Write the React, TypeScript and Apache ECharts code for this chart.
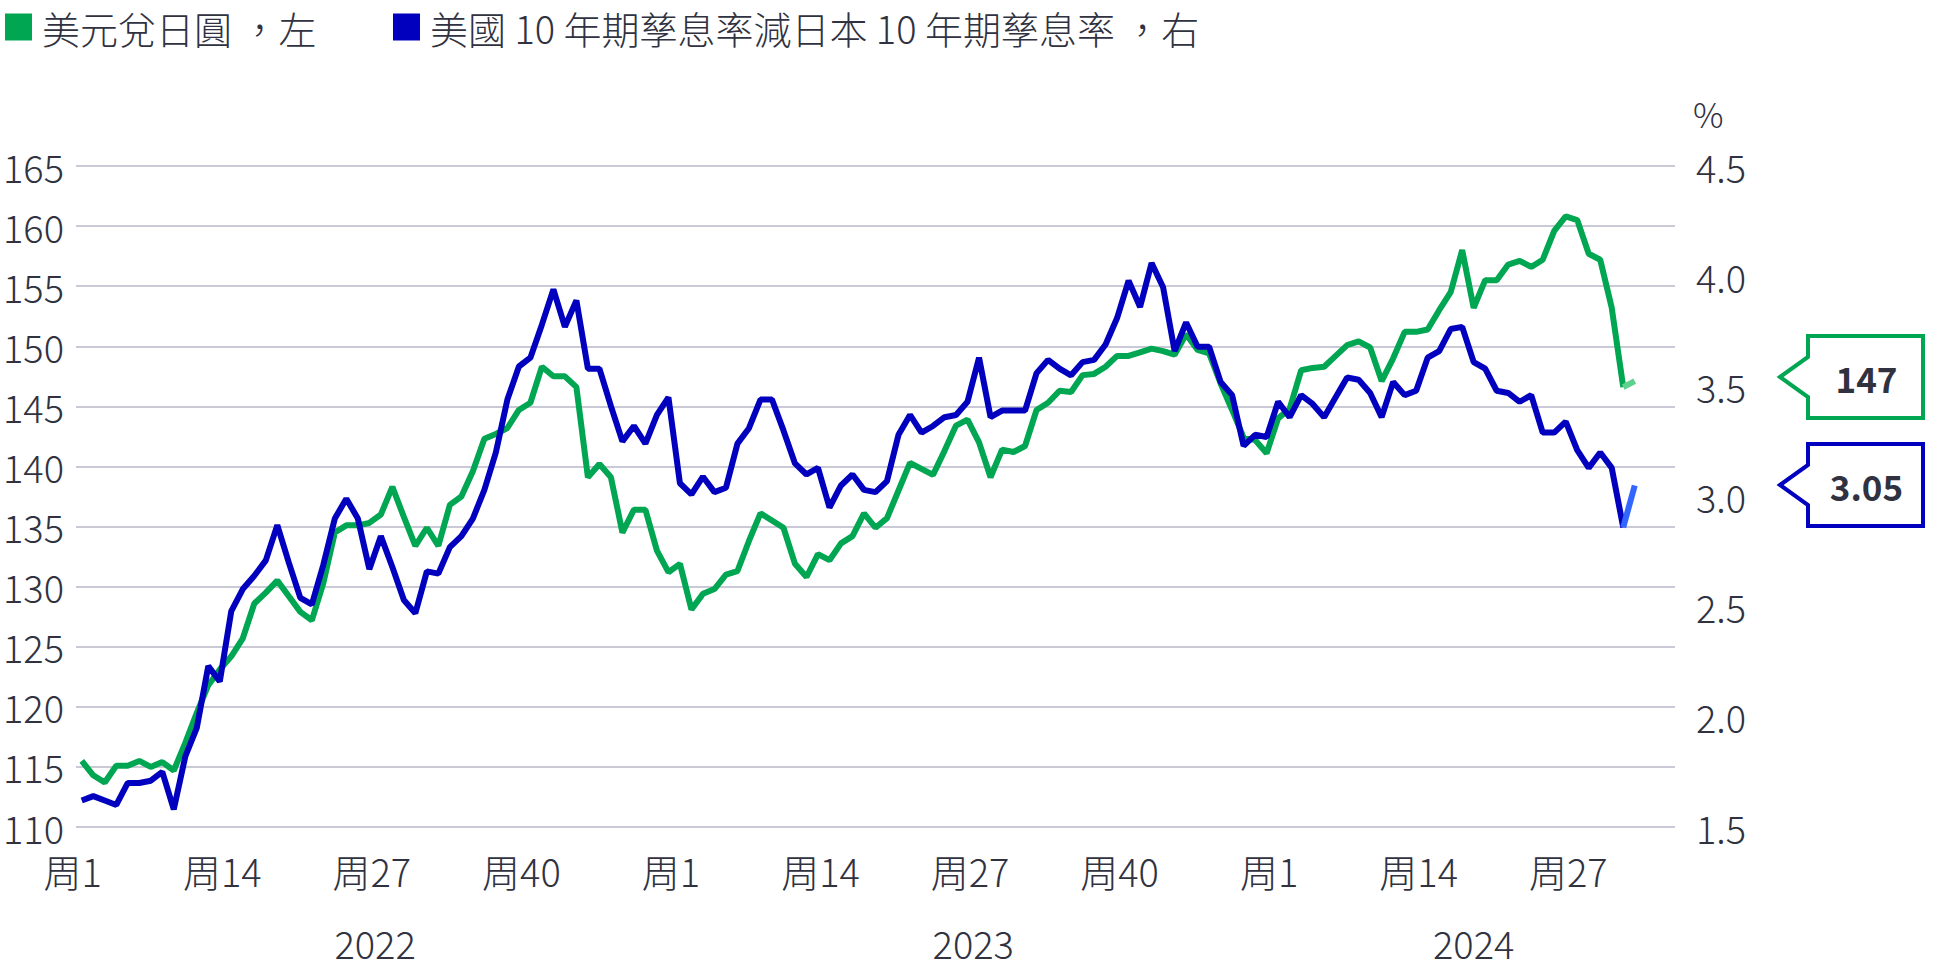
import { useEffect, useRef } from 'react';
import * as echarts from 'echarts';

// ---------- data ----------
const years = ['2022', '2023', '2024'];
const axisWeeksPerYear = [52, 52, 35]; // axis span per year (2024 data ends at week 32)
const weekTickLabels = [1, 14, 27, 40];

const usdJpy2022 = [
  115.5, 114.3, 113.7, 115.1, 115.1, 115.5, 115.0, 115.4, 114.7, 117.0,
  119.5, 121.8, 123.1, 124.2, 125.7, 128.6, 129.5, 130.5, 129.2, 127.9,
  127.2, 130.3, 134.5, 135.1, 135.1, 135.3, 136.0, 138.3, 135.8, 133.4,
  134.9, 133.4, 136.8, 137.5, 139.6, 142.3, 142.7, 143.2, 144.7, 145.3,
  148.3, 147.5, 147.5, 146.6, 139.1, 140.2, 139.1, 134.5, 136.4, 136.4,
  133.0, 131.2,
];
const usdJpy2023 = [
  131.9, 128.1, 129.4, 129.8, 131.0, 131.3, 133.8, 136.1, 135.5, 134.9,
  131.9, 130.8, 132.7, 132.2, 133.6, 134.2, 136.1, 134.9, 135.7, 138.0,
  140.3, 139.8, 139.3, 141.3, 143.4, 143.9, 142.0, 139.1, 141.4, 141.2,
  141.7, 144.7, 145.3, 146.3, 146.2, 147.6, 147.7, 148.3, 149.2, 149.2,
  149.5, 149.8, 149.6, 149.3, 151.0, 149.7, 149.4, 146.9, 144.7, 142.4,
  142.2, 141.1,
];
const usdJpy2024 = [
  144.0, 144.8, 148.0, 148.2, 148.3, 149.2, 150.1, 150.4, 149.9, 147.1,
  149.0, 151.2, 151.2, 151.4, 153.0, 154.5, 158.0, 153.2, 155.5, 155.5,
  156.8, 157.1, 156.6, 157.2, 159.6, 160.8, 160.5, 157.7, 157.2, 153.2,
  146.6, 147.1,
];

const spread2022 = [
  1.62, 1.64, 1.62, 1.60, 1.70, 1.70, 1.71, 1.75, 1.58, 1.82,
  1.95, 2.23, 2.16, 2.48, 2.58, 2.64, 2.71, 2.87, 2.70, 2.54,
  2.51, 2.69, 2.90, 2.99, 2.90, 2.67, 2.82, 2.68, 2.53, 2.47,
  2.66, 2.65, 2.77, 2.82, 2.90, 3.03, 3.20, 3.44, 3.59, 3.63,
  3.78, 3.94, 3.77, 3.89, 3.58, 3.58, 3.41, 3.25, 3.32, 3.24,
  3.37, 3.45,
];
const spread2023 = [
  3.06, 3.01, 3.09, 3.02, 3.04, 3.24, 3.31, 3.44, 3.44, 3.30,
  3.15, 3.10, 3.13, 2.95, 3.05, 3.10, 3.03, 3.02, 3.07, 3.28,
  3.37, 3.29, 3.32, 3.36, 3.37, 3.43, 3.63, 3.36, 3.39, 3.39,
  3.39, 3.56, 3.62, 3.58, 3.55, 3.61, 3.62, 3.69, 3.81, 3.98,
  3.86, 4.06, 3.95, 3.66, 3.79, 3.68, 3.68, 3.52, 3.46, 3.23,
  3.28, 3.27,
];
const spread2024 = [
  3.43, 3.36, 3.46, 3.42, 3.36, 3.45, 3.54, 3.53, 3.47, 3.36,
  3.52, 3.46, 3.48, 3.63, 3.66, 3.76, 3.77, 3.61, 3.58, 3.48,
  3.47, 3.43, 3.46, 3.29, 3.29, 3.34, 3.21, 3.13, 3.20, 3.13,
  2.86, 3.05,
];

const nameJpy = '美元兌日圓 ，左';
const nameSpread = '美國 10 年期孳息率減日本 10 年期孳息率 ，右';

// ---------- styling ----------
const GREEN = '#00A651';
const GREEN_LIGHT = '#5FD08E';
const BLUE = '#0000BE';
const BLUE_LIGHT = '#3366FF';
const TEXT = '#30323F';
const GRID = '#B9B9C9';
const FONT = '"Noto Sans CJK TC", "Noto Sans", sans-serif';
const LIGHT = 300;

export default function App() {
  const ref = useRef<HTMLDivElement>(null);

  useEffect(() => {
    if (!ref.current) return;
    const chart = echarts.init(ref.current, undefined, { renderer: 'svg' });

    const categories: string[] = [];
    years.forEach((y, yi) => {
      for (let w = 1; w <= axisWeeksPerYear[yi]; w++) categories.push(`${y}-${w}`);
    });
    const totalCats = categories.length;

    const jpy = [...usdJpy2022, ...usdJpy2023, ...usdJpy2024];
    const spr = [...spread2022, ...spread2023, ...spread2024];
    const n = jpy.length;
    const head = (arr: number[]) => arr.map((v, i) => (i <= n - 2 ? v : null));
    const tail = (arr: number[]) => arr.map((v, i) => (i >= n - 2 ? v : null));

    // year label centres (in category index units)
    const yearCenters: number[] = [];
    let start = 0;
    axisWeeksPerYear.forEach((c) => {
      yearCenters.push(start + (c - 1) / 2);
      start += c;
    });

    const lastJpy = jpy[n - 1];
    const lastSpr = spr[n - 1];

    const callout = (tipY: number, color: string, text: string) => {
      const tipX = 1780, boxL = 1808, boxR = 1923, half = 41, notch = 20;
      return {
        type: 'group',
        children: [
          {
            type: 'polygon',
            shape: {
              points: [
                [tipX, tipY],
                [boxL, tipY - notch],
                [boxL, tipY - half],
                [boxR, tipY - half],
                [boxR, tipY + half],
                [boxL, tipY + half],
                [boxL, tipY + notch],
              ],
            },
            style: { fill: '#ffffff', stroke: color, lineWidth: 4, lineJoin: 'miter' },
          },
          {
            type: 'text',
            x: (boxL + boxR) / 2 + 1,
            y: tipY,
            style: {
              text,
              fontFamily: FONT,
              fontSize: 35,
              fontWeight: 'bold',
              fill: TEXT,
              align: 'center',
              verticalAlign: 'middle',
            },
          },
        ],
      };
    };

    const legendText = (pad: number) => ({
      fontSize: 38,
      fontWeight: LIGHT,
      color: TEXT,
      fontFamily: FONT,
      padding: [0, 0, 0, pad],
    });

    chart.setOption({
      animation: false,
      textStyle: { fontFamily: FONT, color: TEXT },
      legend: [
        {
          left: 0,
          top: 3,
          icon: 'rect',
          itemWidth: 27,
          itemHeight: 27,
          data: [nameJpy],
          textStyle: legendText(5),
          selectedMode: false,
        },
        {
          left: 388,
          top: 3,
          icon: 'rect',
          itemWidth: 27,
          itemHeight: 27,
          data: [nameSpread],
          textStyle: legendText(5),
          selectedMode: false,
        },
      ],
      grid: { left: 76, right: 263, top: 166, bottom: 144 },
      xAxis: [
        {
          type: 'category',
          data: categories,
          boundaryGap: true,
          axisLine: { show: false },
          axisTick: { show: false },
          splitLine: { show: false },
          axisLabel: {
            interval: (_i: number, v: string) => weekTickLabels.includes(Number(v.split('-')[1])),
            formatter: (v: string) => '周' + v.split('-')[1],
            fontSize: 38,
            fontWeight: LIGHT,
            color: TEXT,
            margin: 24,
            padding: [0, 18, 0, 0],
          },
        },
        {
          type: 'value',
          position: 'bottom',
          min: -0.5,
          max: totalCats - 0.5,
          interval: 0.5,
          axisLine: { show: false },
          axisTick: { show: false },
          splitLine: { show: false },
          axisLabel: {
            fontSize: 38,
            fontWeight: LIGHT,
            color: TEXT,
            margin: 96,
            showMinLabel: true,
            showMaxLabel: true,
            formatter: (v: number) => {
              const k = yearCenters.findIndex((c) => Math.abs(c - v) < 0.01);
              return k >= 0 ? years[k] : '';
            },
          },
        },
      ],
      yAxis: [
        {
          type: 'value',
          position: 'left',
          min: 110,
          max: 165,
          interval: 5,
          axisLine: { show: false },
          axisTick: { show: false },
          axisLabel: { fontSize: 38, fontWeight: LIGHT, color: TEXT, margin: 12 },
          splitLine: { lineStyle: { color: GRID, width: 1.5 } },
        },
        {
          type: 'value',
          position: 'right',
          min: 1.5,
          max: 4.5,
          interval: 0.5,
          name: '%',
          nameLocation: 'end',
          nameGap: 36,
          nameTextStyle: {
            fontSize: 34,
            fontWeight: LIGHT,
            color: TEXT,
            align: 'left',
            padding: [0, 0, 0, 18],
          },
          axisLine: { show: false },
          axisTick: { show: false },
          splitLine: { show: false },
          axisLabel: {
            fontSize: 38,
            fontWeight: LIGHT,
            color: TEXT,
            margin: 21,
            formatter: (v: number) => v.toFixed(1),
          },
        },
      ],
      series: [
        {
          name: nameJpy,
          type: 'line',
          xAxisIndex: 0,
          yAxisIndex: 0,
          data: head(jpy),
          symbol: 'none',
          itemStyle: { color: GREEN },
          lineStyle: { color: GREEN, width: 6 },
          z: 2,
        },
        {
          name: nameJpy + ' (最新)',
          type: 'line',
          xAxisIndex: 0,
          yAxisIndex: 0,
          data: tail(jpy),
          symbol: 'none',
          itemStyle: { color: GREEN_LIGHT },
          lineStyle: { color: GREEN_LIGHT, width: 6 },
          z: 2,
        },
        {
          name: nameSpread,
          type: 'line',
          xAxisIndex: 0,
          yAxisIndex: 1,
          data: head(spr),
          symbol: 'none',
          itemStyle: { color: BLUE },
          lineStyle: { color: BLUE, width: 6 },
          z: 3,
        },
        {
          name: nameSpread + ' (最新)',
          type: 'line',
          xAxisIndex: 0,
          yAxisIndex: 1,
          data: tail(spr),
          symbol: 'none',
          itemStyle: { color: BLUE_LIGHT },
          lineStyle: { color: BLUE_LIGHT, width: 6 },
          z: 3,
        },
      ],
      graphic: [
        callout(377, GREEN, String(Math.round(lastJpy))),
        callout(485, BLUE, lastSpr.toFixed(2)),
      ],
    });

    return () => chart.dispose();
  }, []);

  return (
    <div
      ref={ref}
      style={{ position: 'fixed', left: 0, top: 0, width: 1938, height: 971, background: '#ffffff' }}
    />
  );
}
